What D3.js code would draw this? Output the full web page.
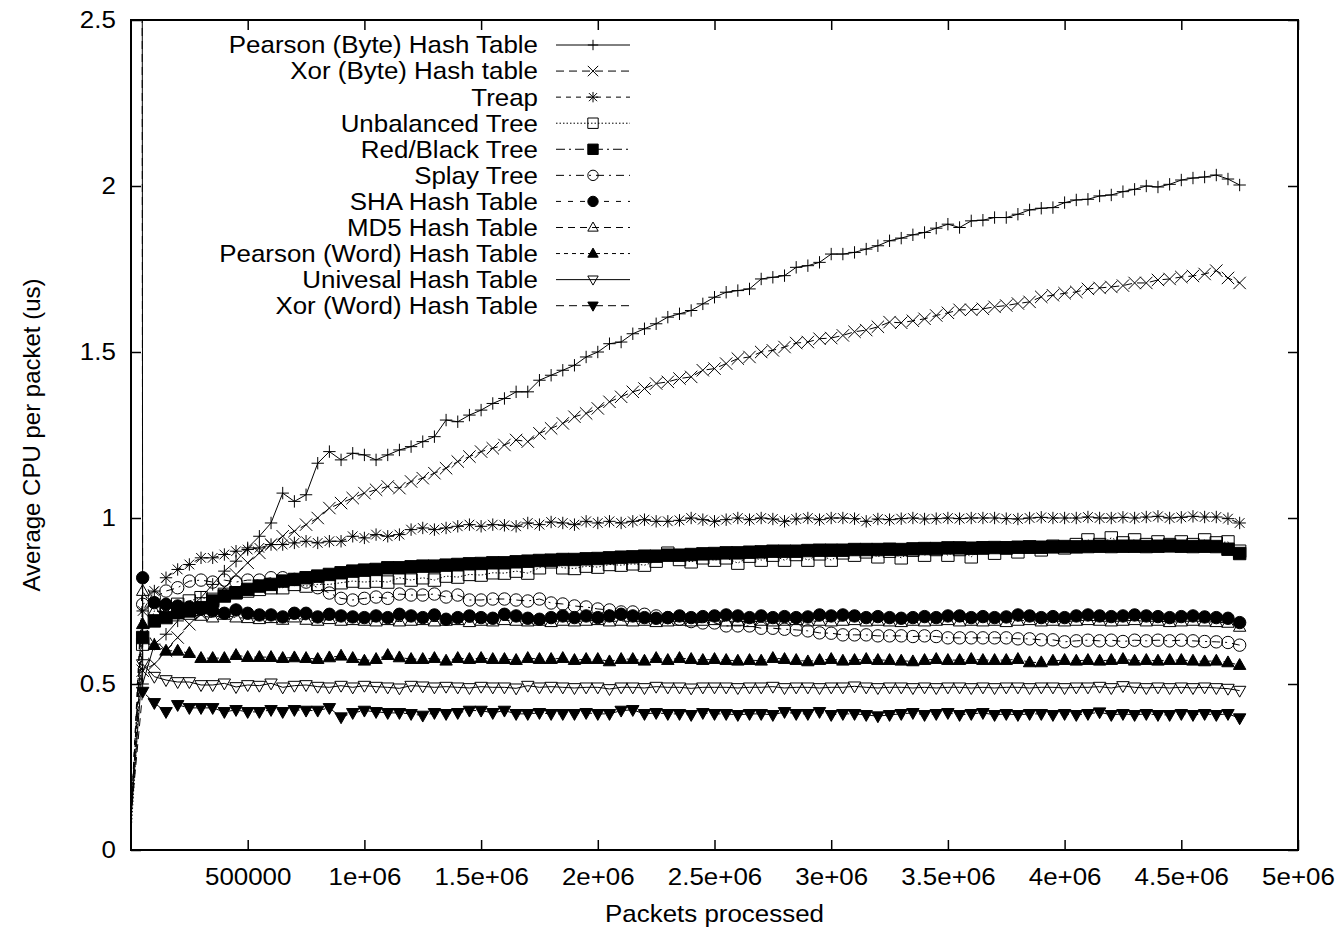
<!DOCTYPE html>
<html lang="en">
<head>
<meta charset="UTF-8">
<title>Average CPU per packet</title>
<script src="https://d3js.org/d3.v7.min.js"></script>
<style>
  body { margin: 0; background: #fff; }
  svg { display: block; background: #fff; }
  text { font-family: "Liberation Sans", Arial, Helvetica, sans-serif; font-size: 24px; fill: #000; }
</style>
</head>
<body>

<svg id="chart" width="1344" height="933"></svg>

<script>
// packets processed, in thousands
const packetsK = [
  0, 50, 100, 150, 200, 250, 300, 350, 400, 450,
  500, 550, 600, 650, 700, 750, 800, 850, 900, 950,
  1000, 1050, 1100, 1150, 1200, 1250, 1300, 1350, 1400, 1450,
  1500, 1550, 1600, 1650, 1700, 1750, 1800, 1850, 1900, 1950,
  2000, 2050, 2100, 2150, 2200, 2250, 2300, 2350, 2400, 2450,
  2500, 2550, 2600, 2650, 2700, 2750, 2800, 2850, 2900, 2950,
  3000, 3050, 3100, 3150, 3200, 3250, 3300, 3350, 3400, 3450,
  3500, 3550, 3600, 3650, 3700, 3750, 3800, 3850, 3900, 3950,
  4000, 4050, 4100, 4150, 4200, 4250, 4300, 4350, 4400, 4450,
  4500, 4550, 4600, 4650, 4700, 4750
];

const seriesNames = [
  "Pearson (Byte) Hash Table", "Xor (Byte) Hash table", "Treap", "Unbalanced Tree",
  "Red/Black Tree", "Splay Tree", "SHA Hash Table", "MD5 Hash Table",
  "Pearson (Word) Hash Table", "Univesal Hash Table", "Xor (Word) Hash Table"
];

const pearsonByte = [
  60, 0.50, 0.62, 0.65, 0.69, 0.73, 0.76, 0.80, 0.84, 0.87,
  0.91, 0.945, 0.985, 1.075, 1.05, 1.07, 1.165, 1.20, 1.175, 1.195,
  1.19, 1.175, 1.19, 1.205, 1.215, 1.23, 1.245, 1.295, 1.29, 1.31,
  1.325, 1.345, 1.36, 1.38, 1.38, 1.415, 1.43, 1.445, 1.46, 1.485,
  1.50, 1.525, 1.53, 1.555, 1.57, 1.585, 1.605, 1.615, 1.625, 1.645,
  1.665, 1.68, 1.685, 1.69, 1.72, 1.725, 1.73, 1.755, 1.76, 1.77,
  1.795, 1.795, 1.80, 1.81, 1.82, 1.835, 1.843, 1.853, 1.86, 1.873,
  1.885, 1.875, 1.895, 1.897, 1.905, 1.905, 1.915, 1.928, 1.933, 1.935,
  1.95, 1.958, 1.96, 1.97, 1.973, 1.983, 1.99, 2.00, 1.997, 2.005,
  2.018, 2.024, 2.027, 2.033, 2.021, 2.003
];

const xorByte = [
  45, 0.54, 0.56, 0.60, 0.64, 0.68, 0.71, 0.75, 0.79, 0.83,
  0.865, 0.895, 0.92, 0.945, 0.96, 0.98, 1.00, 1.03, 1.045, 1.06,
  1.075, 1.085, 1.095, 1.09, 1.11, 1.12, 1.135, 1.15, 1.17, 1.185,
  1.20, 1.21, 1.22, 1.235, 1.23, 1.255, 1.27, 1.285, 1.305, 1.315,
  1.33, 1.35, 1.365, 1.38, 1.39, 1.405, 1.41, 1.42, 1.425, 1.445,
  1.45, 1.465, 1.48, 1.485, 1.50, 1.505, 1.515, 1.527, 1.53, 1.54,
  1.542, 1.55, 1.561, 1.566, 1.576, 1.59, 1.588, 1.594, 1.60, 1.61,
  1.618, 1.627, 1.627, 1.63, 1.636, 1.64, 1.646, 1.651, 1.666, 1.671,
  1.677, 1.681, 1.69, 1.693, 1.696, 1.70, 1.708, 1.708, 1.717, 1.72,
  1.726, 1.729, 1.735, 1.745, 1.723, 1.708
];

const treap = [
  0.1, 0.72, 0.78, 0.82, 0.845, 0.86, 0.88, 0.88, 0.89, 0.90,
  0.905, 0.91, 0.92, 0.92, 0.925, 0.93, 0.925, 0.93, 0.93, 0.945,
  0.94, 0.95, 0.945, 0.95, 0.965, 0.97, 0.965, 0.97, 0.975, 0.98,
  0.975, 0.98, 0.978, 0.975, 0.985, 0.98, 0.988, 0.985, 0.98, 0.99,
  0.985, 0.99, 0.985, 0.99, 0.995, 0.99, 0.99, 0.993, 1.0, 0.995,
  0.99, 0.995, 1.0, 0.995, 1.0, 0.997, 0.99, 0.997, 1.0, 0.995,
  1.0, 1.0, 0.998, 0.99, 0.997, 0.995, 0.998, 1.0, 0.997, 0.998,
  1.0, 0.998, 1.0, 1.0, 1.0, 0.998, 0.997, 1.0, 1.002, 1.0,
  1.0, 1.0, 1.003, 1.0, 1.0, 1.002, 1.0, 1.003, 1.005, 1.0,
  1.002, 1.005, 1.003, 1.003, 0.998, 0.985
];

const unbalanced = [
  0.05, 0.62, 0.72, 0.72, 0.74, 0.75, 0.76, 0.755, 0.77, 0.775,
  0.78, 0.785, 0.79, 0.79, 0.80, 0.795, 0.80, 0.80, 0.805, 0.81,
  0.807, 0.81, 0.807, 0.82, 0.813, 0.82, 0.813, 0.825, 0.822, 0.83,
  0.828, 0.835, 0.834, 0.84, 0.834, 0.85, 0.868, 0.85, 0.848, 0.855,
  0.852, 0.86, 0.858, 0.862, 0.858, 0.87, 0.894, 0.875, 0.868, 0.88,
  0.873, 0.88, 0.864, 0.885, 0.873, 0.888, 0.873, 0.89, 0.873, 0.892,
  0.873, 0.895, 0.888, 0.898, 0.883, 0.90, 0.88, 0.903, 0.888, 0.905,
  0.888, 0.905, 0.883, 0.91, 0.894, 0.91, 0.898, 0.912, 0.904, 0.915,
  0.91, 0.92, 0.934, 0.92, 0.94, 0.925, 0.934, 0.92, 0.928, 0.92,
  0.928, 0.92, 0.934, 0.925, 0.928, 0.90
];

const redBlack = [
  0.1, 0.64, 0.69, 0.70, 0.715, 0.72, 0.73, 0.75, 0.765, 0.775,
  0.785, 0.795, 0.80, 0.81, 0.815, 0.82, 0.825, 0.83, 0.835, 0.84,
  0.843, 0.845, 0.85, 0.85, 0.853, 0.855, 0.855, 0.858, 0.86, 0.862,
  0.863, 0.865, 0.865, 0.868, 0.87, 0.872, 0.873, 0.875, 0.875, 0.877,
  0.878, 0.88, 0.882, 0.883, 0.885, 0.885, 0.888, 0.888, 0.89, 0.892,
  0.893, 0.895, 0.895, 0.897, 0.898, 0.90, 0.90, 0.90, 0.902, 0.903,
  0.903, 0.903, 0.905, 0.905, 0.905, 0.906, 0.905, 0.907, 0.908, 0.908,
  0.91, 0.91, 0.909, 0.91, 0.911, 0.91, 0.912, 0.913, 0.912, 0.913,
  0.914, 0.913, 0.914, 0.915, 0.914, 0.915, 0.915, 0.914, 0.915, 0.916,
  0.915, 0.914, 0.915, 0.914, 0.906, 0.893
];

const splay = [
  0.1, 0.74, 0.76, 0.78, 0.79, 0.81, 0.813, 0.807, 0.813, 0.807,
  0.813, 0.813, 0.82, 0.82, 0.815, 0.807, 0.79, 0.774, 0.758, 0.753,
  0.758, 0.762, 0.758, 0.771, 0.768, 0.768, 0.771, 0.762, 0.768, 0.753,
  0.753, 0.756, 0.756, 0.753, 0.75, 0.756, 0.744, 0.741, 0.735, 0.732,
  0.726, 0.723, 0.717, 0.717, 0.71, 0.705, 0.70, 0.695, 0.688, 0.684,
  0.684, 0.675, 0.675, 0.675, 0.668, 0.668, 0.665, 0.663, 0.66, 0.654,
  0.653, 0.648, 0.648, 0.648, 0.645, 0.645, 0.645, 0.643, 0.645, 0.643,
  0.639, 0.639, 0.639, 0.639, 0.639, 0.639, 0.636, 0.636, 0.633, 0.633,
  0.627, 0.63, 0.632, 0.63, 0.632, 0.628, 0.632, 0.63, 0.632, 0.63,
  0.632, 0.63, 0.628, 0.627, 0.625, 0.617
];

const sha = [
  0.1, 0.82, 0.745, 0.74, 0.735, 0.732, 0.725, 0.72, 0.713, 0.723,
  0.713, 0.708, 0.708, 0.702, 0.713, 0.713, 0.702, 0.71, 0.705, 0.702,
  0.70, 0.705, 0.70, 0.71, 0.705, 0.70, 0.708, 0.695, 0.70, 0.705,
  0.70, 0.698, 0.71, 0.705, 0.698, 0.695, 0.70, 0.705, 0.70, 0.705,
  0.70, 0.705, 0.71, 0.705, 0.70, 0.698, 0.70, 0.705, 0.70, 0.703,
  0.705, 0.708, 0.705, 0.70, 0.705, 0.70, 0.703, 0.70, 0.702, 0.708,
  0.705, 0.708, 0.705, 0.70, 0.703, 0.70, 0.698, 0.70, 0.703, 0.70,
  0.705, 0.705, 0.70, 0.703, 0.70, 0.702, 0.708, 0.705, 0.70, 0.703,
  0.70, 0.705, 0.708, 0.705, 0.703, 0.705, 0.708, 0.705, 0.703, 0.70,
  0.703, 0.705, 0.702, 0.70, 0.698, 0.685
];

const md5 = [
  0.1, 0.78, 0.72, 0.715, 0.71, 0.708, 0.705, 0.70, 0.708, 0.70,
  0.698, 0.695, 0.698, 0.693, 0.70, 0.693, 0.69, 0.695, 0.69, 0.692,
  0.69, 0.688, 0.692, 0.688, 0.69, 0.692, 0.688, 0.69, 0.692, 0.686,
  0.69, 0.688, 0.692, 0.69, 0.688, 0.69, 0.686, 0.69, 0.688, 0.69,
  0.692, 0.688, 0.69, 0.688, 0.69, 0.686, 0.688, 0.69, 0.688, 0.69,
  0.692, 0.688, 0.69, 0.686, 0.69, 0.688, 0.69, 0.692, 0.688, 0.69,
  0.688, 0.69, 0.692, 0.688, 0.69, 0.688, 0.686, 0.69, 0.688, 0.69,
  0.692, 0.688, 0.69, 0.688, 0.69, 0.686, 0.69, 0.692, 0.688, 0.69,
  0.688, 0.69, 0.692, 0.69, 0.688, 0.69, 0.692, 0.688, 0.69, 0.686,
  0.688, 0.69, 0.688, 0.686, 0.684, 0.672
];

const pearsonWord = [
  0.1, 0.68, 0.617, 0.60, 0.60, 0.593, 0.578, 0.578, 0.578, 0.587,
  0.581, 0.581, 0.581, 0.578, 0.58, 0.578, 0.575, 0.58, 0.585, 0.578,
  0.57, 0.575, 0.587, 0.58, 0.575, 0.575, 0.578, 0.57, 0.578, 0.575,
  0.578, 0.575, 0.575, 0.572, 0.578, 0.575, 0.575, 0.578, 0.572, 0.575,
  0.575, 0.568, 0.575, 0.575, 0.57, 0.578, 0.572, 0.578, 0.575, 0.572,
  0.575, 0.572, 0.57, 0.572, 0.57, 0.578, 0.575, 0.572, 0.568, 0.572,
  0.575, 0.57, 0.572, 0.575, 0.572, 0.572, 0.57, 0.568, 0.572, 0.575,
  0.572, 0.572, 0.575, 0.572, 0.572, 0.572, 0.575, 0.565, 0.565, 0.57,
  0.572, 0.57, 0.572, 0.57, 0.572, 0.575, 0.57, 0.572, 0.57, 0.572,
  0.572, 0.57, 0.568, 0.57, 0.565, 0.557
];

const universal = [
  0.1, 0.56, 0.522, 0.512, 0.506, 0.506, 0.497, 0.497, 0.502, 0.491,
  0.497, 0.495, 0.502, 0.49, 0.495, 0.497, 0.492, 0.49, 0.495, 0.49,
  0.495, 0.492, 0.49, 0.487, 0.495, 0.493, 0.49, 0.492, 0.49, 0.488,
  0.492, 0.49, 0.49, 0.487, 0.495, 0.49, 0.492, 0.49, 0.488, 0.49,
  0.49, 0.485, 0.49, 0.49, 0.488, 0.492, 0.49, 0.49, 0.487, 0.49,
  0.49, 0.49, 0.488, 0.49, 0.49, 0.492, 0.488, 0.49, 0.49, 0.488,
  0.49, 0.49, 0.493, 0.49, 0.488, 0.49, 0.49, 0.488, 0.49, 0.488,
  0.49, 0.49, 0.488, 0.49, 0.488, 0.49, 0.49, 0.488, 0.49, 0.49,
  0.488, 0.49, 0.49, 0.492, 0.488, 0.494, 0.49, 0.488, 0.49, 0.488,
  0.49, 0.488, 0.49, 0.488, 0.486, 0.48
];

const xorWord = [
  0.1, 0.477, 0.443, 0.416, 0.437, 0.428, 0.428, 0.428, 0.416, 0.422,
  0.416, 0.416, 0.422, 0.416, 0.422, 0.42, 0.42, 0.428, 0.40, 0.413,
  0.42, 0.416, 0.413, 0.413, 0.41, 0.405, 0.413, 0.41, 0.413, 0.42,
  0.42, 0.413, 0.42, 0.41, 0.41, 0.413, 0.41, 0.41, 0.41, 0.413,
  0.41, 0.41, 0.42, 0.422, 0.41, 0.413, 0.41, 0.41, 0.407, 0.413,
  0.41, 0.41, 0.407, 0.41, 0.41, 0.407, 0.416, 0.41, 0.41, 0.416,
  0.407, 0.41, 0.41, 0.407, 0.403, 0.407, 0.41, 0.413, 0.407, 0.41,
  0.413, 0.407, 0.41, 0.413, 0.407, 0.41, 0.407, 0.41, 0.41, 0.407,
  0.41, 0.407, 0.41, 0.415, 0.407, 0.41, 0.407, 0.41, 0.407, 0.407,
  0.41, 0.407, 0.41, 0.407, 0.41, 0.397
];

const yTicks = [0, 0.5, 1, 1.5, 2, 2.5];
const xTicks = [500000, 1000000, 1500000, 2000000, 2500000, 3000000, 3500000, 4000000, 4500000, 5000000];
const xTickLabels = ["500000", "1e+06", "1.5e+06", "2e+06", "2.5e+06", "3e+06", "3.5e+06", "4e+06", "4.5e+06", "5e+06"];

// gnuplot-ish styles, one per series
const styles = [
  {dash: null,        marker: "plus"},
  {dash: "8,5",       marker: "cross"},
  {dash: "5,5",       marker: "star"},
  {dash: "1.5,2",     marker: "square"},
  {dash: "9,4,2,4",   marker: "squareFilled"},
  {dash: "8,5,2,5",   marker: "circle"},
  {dash: "5,7",       marker: "circleFilled"},
  {dash: "7,5",       marker: "triangle"},
  {dash: "4,4",       marker: "triangleFilled"},
  {dash: null,        marker: "triangleDown"},
  {dash: "8,5",       marker: "triangleDownFilled"}
];

const allValues = [pearsonByte, xorByte, treap, unbalanced, redBlack, splay, sha, md5, pearsonWord, universal, xorWord];
const series = seriesNames.map((name, i) => ({name: name, values: allValues[i], style: styles[i]}));

const plot = {left: 131, right: 1298, top: 20, bottom: 850};
const stretch = 1.08; // glyphs in the original are slightly wide

const svg = d3.select("#chart");

const x = d3.scaleLinear().domain([0, 5000000]).range([plot.left, plot.right]);
const y = d3.scaleLinear().domain([0, 2.5]).range([plot.bottom, plot.top]);

svg.append("defs").append("clipPath").attr("id", "plotClip")
  .append("rect")
  .attr("x", plot.left).attr("y", plot.top)
  .attr("width", plot.right - plot.left).attr("height", plot.bottom - plot.top);

// marker shapes (s = half size)
function markerPath(type, s) {
  const t = s * 0.78;
  switch (type) {
    case "plus": return `M${-s},0H${s}M0,${-s}V${s}`;
    case "cross": return `M${-s},${-s}L${s},${s}M${-s},${s}L${s},${-s}`;
    case "star": return `M${-s},0H${s}M0,${-s}V${s}M${-t},${-t}L${t},${t}M${-t},${t}L${t},${-t}`;
    case "square": case "squareFilled": return `M${-s},${-s}H${s}V${s}H${-s}Z`;
    case "circle": case "circleFilled": return `M${-s},0A${s},${s} 0 1,0 ${s},0A${s},${s} 0 1,0 ${-s},0Z`;
    case "triangle": case "triangleFilled": return `M0,${-s * 1.05}L${s},${s * 0.7}H${-s}Z`;
    default: return `M0,${s * 1.05}L${s},${-s * 0.7}H${-s}Z`;
  }
}
function isFilled(type) { return /Filled$/.test(type); }

function drawMarker(g, type, s) {
  g.append("path")
    .attr("d", markerPath(type, s))
    .attr("fill", isFilled(type) ? "#000" : "none")
    .attr("stroke", "#000")
    .attr("stroke-width", 1);
}

// ticks (inward, mirrored on all four sides)
svg.append("g")
  .attr("transform", `translate(0,${plot.bottom})`)
  .call(d3.axisBottom(x).tickValues(xTicks).tickSize(-10).tickPadding(18)
    .tickFormat((d, i) => xTickLabels[i]));
svg.append("g")
  .attr("transform", `translate(0,${plot.top})`)
  .call(d3.axisTop(x).tickValues(xTicks).tickSize(-10).tickFormat(""));
svg.append("g")
  .attr("transform", `translate(${plot.left},0)`)
  .call(d3.axisLeft(y).tickValues(yTicks).tickSize(-10).tickPadding(14)
    .tickFormat(d => String(d)));
svg.append("g")
  .attr("transform", `translate(${plot.right},0)`)
  .call(d3.axisRight(y).tickValues(yTicks).tickSize(-10).tickFormat(""));

svg.selectAll(".domain").remove();
svg.selectAll(".tick line").attr("stroke", "#000").attr("stroke-width", 1.5);
svg.selectAll(".tick text")
  .attr("fill", "#000")
  .style("font-family", '"Liberation Sans", Arial, Helvetica, sans-serif')
  .style("font-size", "24px")
  .attr("transform", `scale(${stretch},1)`);

// series lines and markers
const line = d3.line()
  .x((d, i) => x(packetsK[i] * 1000))
  .y(d => y(d));

const plotArea = svg.append("g").attr("clip-path", "url(#plotClip)");

series.forEach(s => {
  const g = plotArea.append("g");
  g.append("path")
    .datum(s.values)
    .attr("fill", "none")
    .attr("stroke", "#000")
    .attr("stroke-width", 1)
    .attr("stroke-dasharray", s.style.dash)
    .attr("d", line);

  const pts = s.values
    .map((v, i) => ({px: packetsK[i] * 1000, v: v}))
    .filter(d => d.px > 0 && d.v <= 2.5);

  g.selectAll("g.pt")
    .data(pts)
    .join("g")
    .attr("class", "pt")
    .attr("transform", d => `translate(${x(d.px)},${y(d.v)})`)
    .each(function () { drawMarker(d3.select(this), s.style.marker, 6.2); });
});

// frame
svg.append("rect")
  .attr("x", plot.left).attr("y", plot.top)
  .attr("width", plot.right - plot.left).attr("height", plot.bottom - plot.top)
  .attr("fill", "none")
  .attr("stroke", "#000")
  .attr("stroke-width", 2);

// legend
const legend = svg.append("g");
const legendRight = 538, legendTop = 45, legendStep = 26.07;
const sampleX0 = 556, sampleX1 = 630, sampleMid = 593;

series.forEach((s, i) => {
  const ly = legendTop + i * legendStep;
  const row = legend.append("g").attr("transform", `translate(0,${ly})`);
  row.append("text")
    .attr("transform", `translate(${legendRight},0) scale(${stretch},1)`)
    .attr("text-anchor", "end")
    .attr("dy", "0.35em")
    .text(s.name);
  row.append("line")
    .attr("x1", sampleX0).attr("x2", sampleX1)
    .attr("stroke", "#000")
    .attr("stroke-width", 1)
    .attr("stroke-dasharray", s.style.dash);
  drawMarker(row.append("g").attr("transform", `translate(${sampleMid},0)`), s.style.marker, 5.2);
});

// axis titles
svg.append("text")
  .attr("transform", `translate(${(plot.left + plot.right) / 2},922) scale(${stretch},1)`)
  .attr("text-anchor", "middle")
  .text("Packets processed");

svg.append("text")
  .attr("transform", `translate(40,${(plot.top + plot.bottom) / 2}) rotate(-90)`)
  .attr("text-anchor", "middle")
  .text("Average CPU per packet (us)");
</script>

</body>
</html>
